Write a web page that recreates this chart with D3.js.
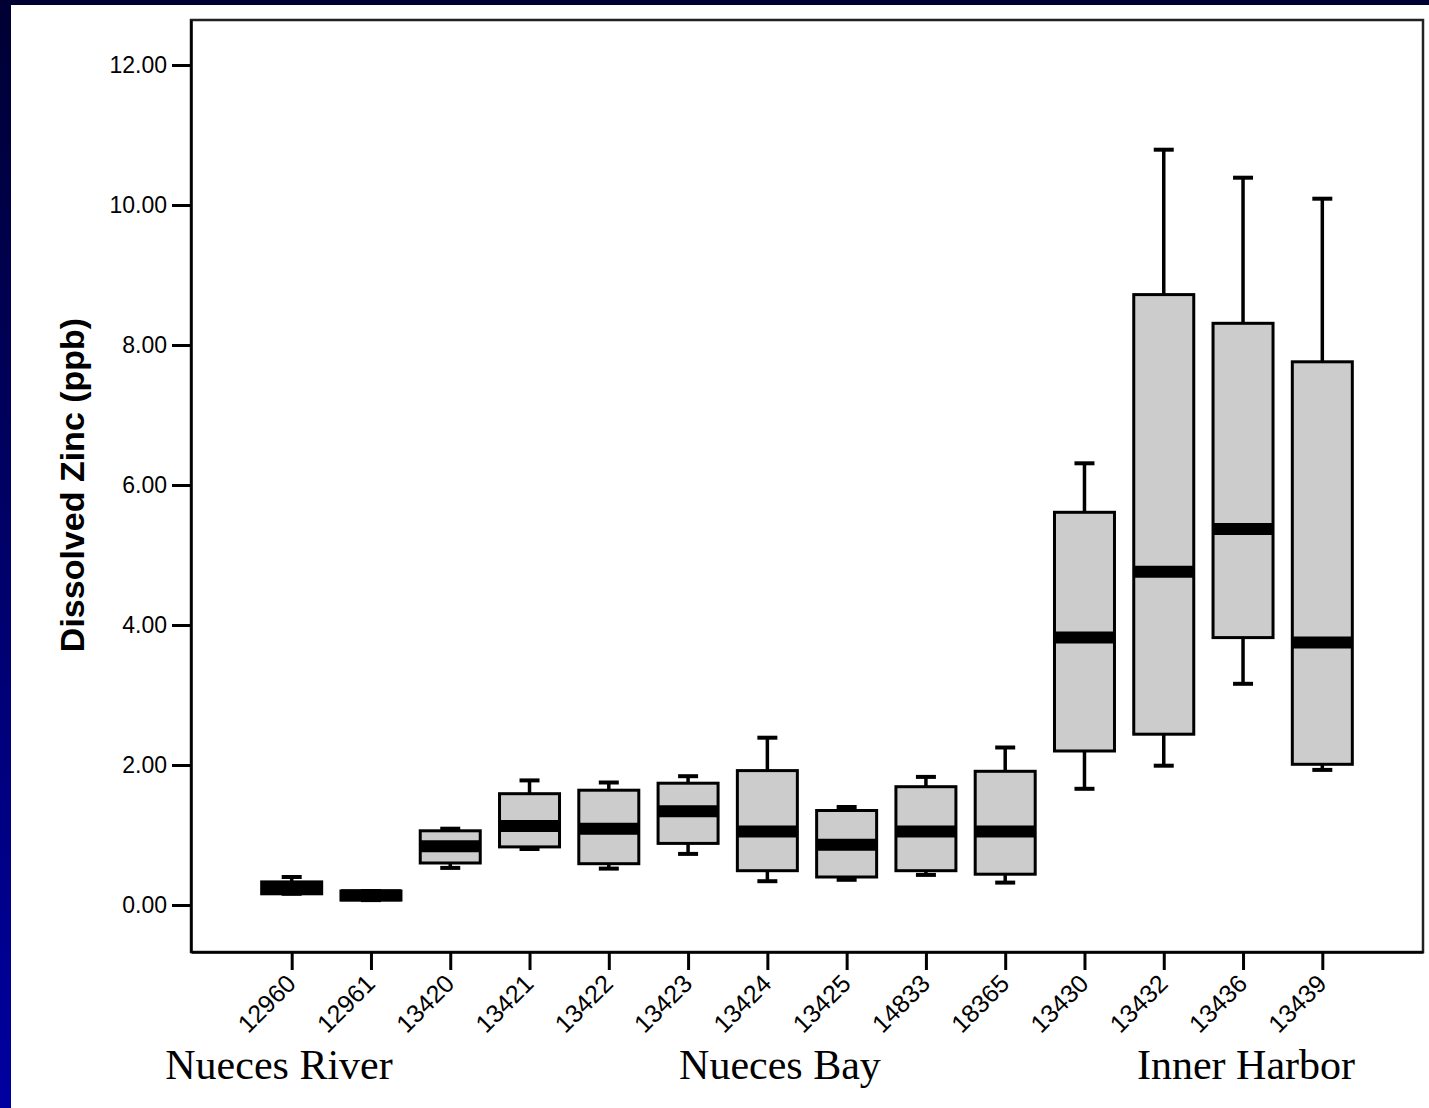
<!DOCTYPE html>
<html>
<head>
<meta charset="utf-8">
<script src="https://cdn.jsdelivr.net/npm/d3@7"></script>
<style>
  body { margin: 0; background: #fff; }
  svg { display: block; }
</style>
</head>
<body>
<div id="chart"></div>
<script>
// station ids along the x axis
var stations = ['12960', '12961', '13420', '13421', '13422', '13423', '13424',
  '13425', '14833', '18365', '13430', '13432', '13436', '13439'];
// box plot stats (ppb)
var whiskLow = [0.16, 0.07, 0.53, 0.80, 0.52, 0.73, 0.34, 0.36, 0.43, 0.32, 1.66, 1.99, 3.16, 1.93];
var q1 = [0.16, 0.07, 0.60, 0.83, 0.59, 0.88, 0.49, 0.40, 0.49, 0.44, 2.20, 2.44, 3.82, 2.01];
var median = [0.25, 0.14, 0.84, 1.13, 1.09, 1.34, 1.05, 0.86, 1.05, 1.05, 3.82, 4.76, 5.37, 3.75];
var q3 = [0.33, 0.20, 1.06, 1.59, 1.64, 1.74, 1.92, 1.35, 1.69, 1.91, 5.61, 8.72, 8.31, 7.76];
var whiskHigh = [0.40, 0.20, 1.09, 1.78, 1.75, 1.84, 2.39, 1.40, 1.83, 2.25, 6.31, 10.79, 10.39, 10.09];
var yTicks = [0, 2, 4, 6, 8, 10, 12];
var regions = ['Nueces River', 'Nueces Bay', 'Inner Harbor'];
var regionX = [279, 780, 1246];

var W = 1429, H = 1108;
var plot = { left: 191, right: 1423, top: 20, bottom: 952 };

var svg = d3.select('#chart').append('svg')
  .attr('width', W).attr('height', H);

// blue slide frame on the top and left
var grad = svg.append('defs').append('linearGradient')
  .attr('id', 'side').attr('x1', 0).attr('y1', 0).attr('x2', 0).attr('y2', 1);
grad.append('stop').attr('offset', '0%').attr('stop-color', '#000033');
grad.append('stop').attr('offset', '100%').attr('stop-color', '#0000a0');
svg.append('rect').attr('width', W).attr('height', H).attr('fill', '#fff');
svg.append('rect').attr('x', 0).attr('y', 0).attr('width', W).attr('height', 5).attr('fill', '#000033');
svg.append('rect').attr('x', 0).attr('y', 0).attr('width', 11).attr('height', H).attr('fill', 'url(#side)');

var x = d3.scalePoint()
  .domain(stations)
  .range([plot.left, plot.right])
  .padding(1.27);

var y = d3.scaleLinear()
  .domain([(905 - plot.bottom) / 70, (905 - plot.top) / 70])
  .range([plot.bottom, plot.top]);

// frame
svg.append('rect')
  .attr('x', plot.left).attr('y', plot.top)
  .attr('width', plot.right - plot.left).attr('height', plot.bottom - plot.top)
  .attr('fill', 'none').attr('stroke', '#222').attr('stroke-width', 2.5);

// y axis
var yAxis = svg.append('g')
  .attr('transform', 'translate(' + plot.left + ',0)')
  .call(d3.axisLeft(y).tickValues(yTicks).tickFormat(d3.format('.2f'))
    .tickSize(19).tickSizeOuter(0).tickPadding(5));
yAxis.select('.domain').attr('stroke', '#000').attr('stroke-width', 2.5);
yAxis.selectAll('.tick line').attr('stroke', '#000').attr('stroke-width', 3);
yAxis.selectAll('.tick text')
  .attr('font-family', 'Arial, "Liberation Sans", sans-serif')
  .attr('font-size', 23).attr('fill', '#000');

// x axis
var xAxis = svg.append('g')
  .attr('transform', 'translate(0,' + plot.bottom + ')')
  .call(d3.axisBottom(x).tickSize(18).tickSizeOuter(0).tickPadding(0));
xAxis.select('.domain').attr('stroke', '#000').attr('stroke-width', 2.5);
xAxis.selectAll('.tick line').attr('stroke', '#000').attr('stroke-width', 3);
xAxis.selectAll('.tick text')
  .attr('font-family', 'Arial, "Liberation Sans", sans-serif')
  .attr('font-size', 25).attr('fill', '#000')
  .attr('text-anchor', 'end')
  .attr('x', 0).attr('y', 0)
  .attr('dy', '0.35em')
  .attr('transform', 'translate(-1,27) rotate(-45)');

// boxes
var data = stations.map(function (s, i) {
  return { id: s, lo: whiskLow[i], q1: q1[i], med: median[i], q3: q3[i], hi: whiskHigh[i] };
});
var boxW = 60, capW = 20;

var g = svg.append('g').selectAll('g').data(data).enter().append('g')
  .attr('transform', function (d) { return 'translate(' + x(d.id) + ',0)'; });

// whisker stems
g.append('line')
  .attr('x1', 0).attr('x2', 0)
  .attr('y1', function (d) { return y(d.hi); })
  .attr('y2', function (d) { return y(d.lo); })
  .attr('stroke', '#000').attr('stroke-width', 3.5);

// caps
g.selectAll('.cap').data(function (d) { return [d.lo, d.hi]; })
  .enter().append('line').attr('class', 'cap')
  .attr('x1', -capW / 2).attr('x2', capW / 2)
  .attr('y1', function (v) { return y(v); })
  .attr('y2', function (v) { return y(v); })
  .attr('stroke', '#000').attr('stroke-width', 4);

g.append('rect')
  .attr('x', -boxW / 2)
  .attr('y', function (d) { return y(d.q3); })
  .attr('width', boxW)
  .attr('height', function (d) { return Math.max(y(d.q1) - y(d.q3), 0.5); })
  .attr('fill', '#cccccc').attr('stroke', '#000').attr('stroke-width', 3);

// thick median bar
g.append('line')
  .attr('x1', -boxW / 2).attr('x2', boxW / 2)
  .attr('y1', function (d) { return y(d.med); })
  .attr('y2', function (d) { return y(d.med); })
  .attr('stroke', '#000').attr('stroke-width', 12);

// y title
svg.append('text')
  .attr('transform', 'translate(84,485) rotate(-90)')
  .attr('text-anchor', 'middle')
  .attr('font-family', 'Arial, "Liberation Sans", sans-serif')
  .attr('font-weight', 'bold').attr('font-size', 34)
  .text('Dissolved Zinc (ppb)');

// region labels under the axis
svg.selectAll('.region').data(regions).enter().append('text')
  .attr('class', 'region')
  .attr('x', function (d, i) { return regionX[i]; })
  .attr('y', 1079)
  .attr('text-anchor', 'middle')
  .attr('font-family', '"Times New Roman", "Liberation Serif", serif')
  .attr('font-size', 42)
  .text(function (d) { return d; });
</script>
</body>
</html>
